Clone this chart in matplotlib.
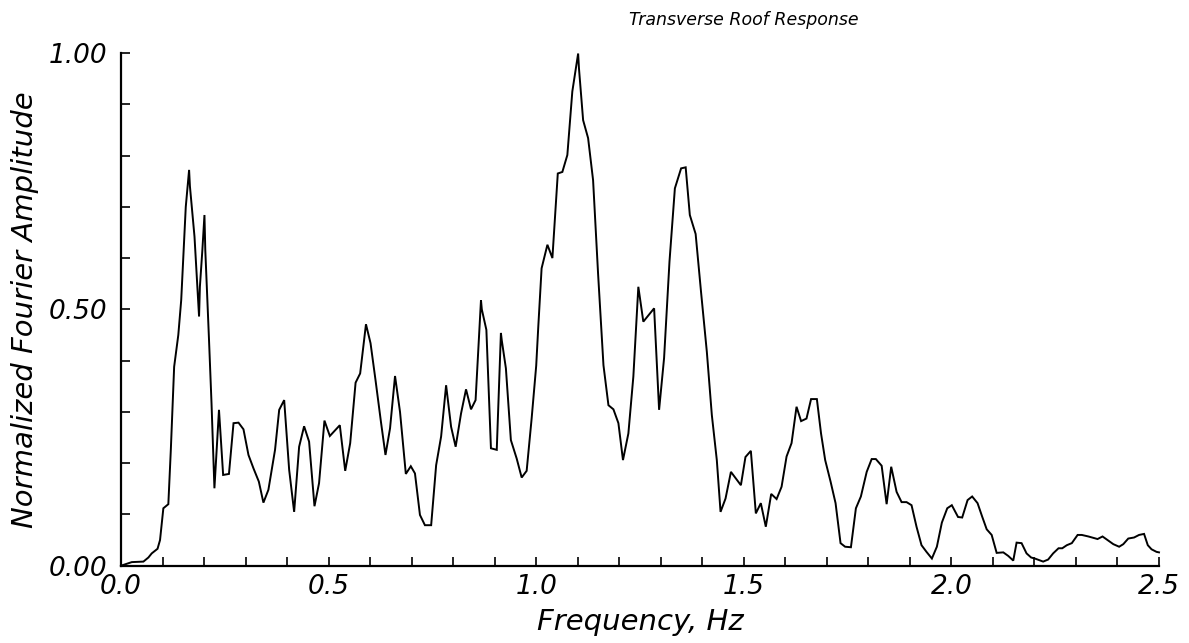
import matplotlib
matplotlib.use("Agg")
import matplotlib.pyplot as plt
from matplotlib.ticker import MultipleLocator, FixedLocator

# Data
freq = [0.000, 0.026, 0.054, 0.066, 0.074, 0.088, 0.094, 0.102, 0.114, 0.120,
        0.128, 0.138, 0.145, 0.156, 0.164, 0.166, 0.177, 0.188, 0.190, 0.196,
        0.201, 0.203, 0.212, 0.218, 0.225, 0.236, 0.246, 0.260, 0.271, 0.283,
        0.295, 0.307, 0.319, 0.332, 0.343, 0.355, 0.371, 0.381, 0.393, 0.405,
        0.417, 0.429, 0.441, 0.453, 0.466, 0.477, 0.490, 0.503, 0.527, 0.540,
        0.552, 0.565, 0.576, 0.590, 0.601, 0.613, 0.626, 0.637, 0.648, 0.660,
        0.672, 0.686, 0.698, 0.708, 0.720, 0.732, 0.747, 0.759, 0.771, 0.783,
        0.795, 0.806, 0.819, 0.831, 0.843, 0.854, 0.867, 0.869, 0.880, 0.891,
        0.905, 0.915, 0.917, 0.927, 0.939, 0.953, 0.965, 0.977, 0.989, 1.000,
        1.005, 1.013, 1.027, 1.039, 1.052, 1.063, 1.075, 1.087, 1.101, 1.103,
        1.113, 1.125, 1.137, 1.149, 1.162, 1.174, 1.186, 1.198, 1.209, 1.222,
        1.234, 1.246, 1.258, 1.284, 1.296, 1.308, 1.321, 1.334, 1.349, 1.360,
        1.370, 1.384, 1.397, 1.411, 1.423, 1.435, 1.444, 1.456, 1.469, 1.493,
        1.504, 1.517, 1.529, 1.541, 1.553, 1.566, 1.579, 1.591, 1.603, 1.615,
        1.627, 1.638, 1.651, 1.662, 1.676, 1.686, 1.696, 1.709, 1.721, 1.733,
        1.744, 1.758, 1.770, 1.782, 1.796, 1.808, 1.818, 1.832, 1.844, 1.855,
        1.868, 1.880, 1.892, 1.904, 1.916, 1.928, 1.940, 1.953, 1.965, 1.977,
        1.990, 2.001, 2.016, 2.026, 2.039, 2.050, 2.063, 2.074, 2.085, 2.097,
        2.109, 2.125, 2.137, 2.149, 2.157, 2.169, 2.181, 2.192, 2.201, 2.221,
        2.233, 2.245, 2.258, 2.267, 2.278, 2.290, 2.304, 2.314, 2.330, 2.352,
        2.364, 2.378, 2.390, 2.404, 2.414, 2.426, 2.440, 2.452, 2.464, 2.473,
        2.482, 2.494, 2.500]

amplitude = [0.000, 0.007, 0.008, 0.016, 0.024, 0.033, 0.050, 0.112, 0.120, 0.226,
             0.388, 0.450, 0.518, 0.700, 0.772, 0.740, 0.642, 0.486, 0.544, 0.616,
             0.684, 0.616, 0.440, 0.317, 0.151, 0.304, 0.177, 0.179, 0.278, 0.279,
             0.266, 0.216, 0.190, 0.164, 0.123, 0.148, 0.226, 0.304, 0.323, 0.187,
             0.105, 0.232, 0.272, 0.242, 0.116, 0.161, 0.283, 0.253, 0.274, 0.185,
             0.239, 0.357, 0.375, 0.471, 0.434, 0.362, 0.281, 0.216, 0.268, 0.370,
             0.300, 0.179, 0.194, 0.180, 0.099, 0.079, 0.079, 0.196, 0.252, 0.352,
             0.271, 0.232, 0.297, 0.344, 0.305, 0.323, 0.518, 0.500, 0.460, 0.229,
             0.226, 0.454, 0.440, 0.385, 0.245, 0.209, 0.172, 0.185, 0.287, 0.390,
             0.466, 0.580, 0.626, 0.600, 0.765, 0.768, 0.801, 0.925, 0.999, 0.970,
             0.869, 0.834, 0.752, 0.570, 0.391, 0.313, 0.305, 0.278, 0.206, 0.258,
             0.369, 0.544, 0.476, 0.502, 0.304, 0.405, 0.593, 0.736, 0.775, 0.777,
             0.684, 0.647, 0.534, 0.417, 0.294, 0.206, 0.105, 0.131, 0.183, 0.157,
             0.212, 0.224, 0.102, 0.122, 0.076, 0.140, 0.130, 0.154, 0.213, 0.239,
             0.310, 0.282, 0.287, 0.325, 0.325, 0.258, 0.206, 0.164, 0.122, 0.044,
             0.037, 0.036, 0.112, 0.135, 0.183, 0.208, 0.208, 0.195, 0.120, 0.193,
             0.144, 0.124, 0.124, 0.118, 0.076, 0.040, 0.027, 0.014, 0.037, 0.084,
             0.112, 0.118, 0.095, 0.094, 0.128, 0.135, 0.122, 0.096, 0.071, 0.060,
             0.025, 0.026, 0.019, 0.010, 0.045, 0.044, 0.024, 0.016, 0.014, 0.008,
             0.012, 0.024, 0.034, 0.034, 0.040, 0.044, 0.060, 0.060, 0.057, 0.052,
             0.057, 0.049, 0.042, 0.037, 0.042, 0.053, 0.055, 0.060, 0.062, 0.040,
             0.032, 0.027, 0.026]

x_major = [0.0, 0.5, 1.0, 1.5, 2.0, 2.5]
x_labels = ["0.0", "0.5", "1.0", "1.5", "2.0", "2.5"]
y_major = [0.0, 0.5, 1.0]
y_labels = ["0.00", "0.50", "1.00"]

title = "Transverse Roof Response"
xlabel = "Frequency, Hz"
ylabel = "Normalized Fourier Amplitude"

plt.rcParams['font.family'] = ['DejaVu Sans']
plt.rcParams['font.style'] = 'italic'

fig = plt.figure(figsize=(11.89, 6.43), dpi=100)
ax = fig.add_axes([121/1189, 1 - 565.7/643, (1159 - 121)/1189, (565.7 - 53)/643])

ax.plot(freq, amplitude, color='black', lw=1.4, solid_joinstyle='miter', clip_on=False)

ax.set_xlim(0, 2.5)
ax.set_ylim(0, 1.0)

for s in ['top', 'right']:
    ax.spines[s].set_visible(False)
for s in ['left', 'bottom']:
    ax.spines[s].set_linewidth(1.6)

ax.xaxis.set_major_locator(FixedLocator(x_major))
ax.xaxis.set_minor_locator(MultipleLocator(0.1))
ax.yaxis.set_major_locator(FixedLocator(y_major))
ax.yaxis.set_minor_locator(MultipleLocator(0.1))
ax.set_xticklabels(x_labels)
ax.set_yticklabels(y_labels)

ax.tick_params(axis='both', which='both', direction='in', length=6.5, width=1.2,
               labelsize=19)
ax.tick_params(axis='x', which='both', pad=6)
ax.tick_params(axis='y', which='both', pad=10)
for lab in ax.get_xticklabels() + ax.get_yticklabels():
    lab.set_fontstyle('italic')

ax.set_xlabel(xlabel, fontsize=21, style='italic', labelpad=6)
ax.set_ylabel(ylabel, fontsize=21, style='italic', labelpad=7)
fig.text(744/1189, 1 - 20/643, title, fontsize=12.5, style='italic',
         ha='center', va='center')

fig.savefig("out.png", dpi=100)
